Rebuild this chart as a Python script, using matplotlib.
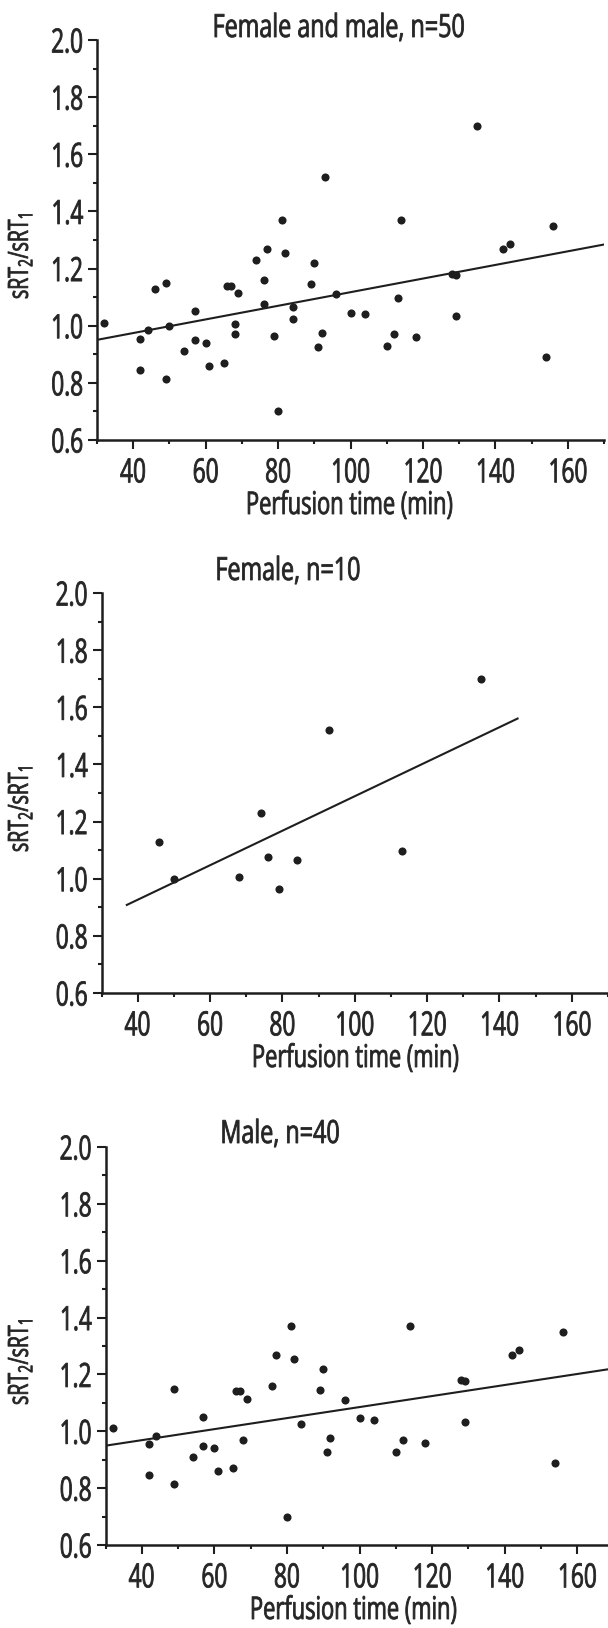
import numpy as np
import matplotlib
matplotlib.use('Agg')
import matplotlib.pyplot as plt
from matplotlib.ticker import MultipleLocator
from matplotlib.patheffects import AbstractPathEffect
from matplotlib.transforms import Affine2D

plt.rcParams['font.family'] = ['Open Sans', 'DejaVu Sans']
plt.rcParams['mathtext.default'] = 'regular'

# female patients (n=10)
perf_female = [46, 50, 68, 74, 76, 79, 84, 93, 113, 135]
ratio_female = [1.13, 1.00, 1.005, 1.23, 1.076, 0.965, 1.065, 1.52, 1.097, 1.70]

# male patients (n=40)
perf_male = [32, 42, 42, 44, 49, 49, 54, 57, 57, 60, 61, 65, 66, 67, 68, 69, 76, 77, 80, 81,
             82, 84, 89, 90, 91, 92, 96, 100, 104, 110, 112, 114, 118, 128, 129, 129, 142, 144, 154, 156]
ratio_male = [1.01, 0.955, 0.845, 0.985, 1.15, 0.815, 0.91, 1.05, 0.95, 0.94, 0.86, 0.87, 1.14, 1.14,
              0.97, 1.115, 1.16, 1.27, 0.70, 1.37, 1.255, 1.025, 1.145, 1.22, 0.927, 0.975, 1.11,
              1.045, 1.04, 0.928, 0.97, 1.37, 0.96, 1.18, 1.177, 1.033, 1.27, 1.285, 0.889, 1.35]

perf_all = perf_female + perf_male
ratio_all = ratio_female + ratio_male

titles = ['Female and male, n=50', 'Female, n=10', 'Male, n=40']
xticks = [40, 60, 80, 100, 120, 140, 160]
yticks = [0.6, 0.8, 1.0, 1.2, 1.4, 1.6, 1.8, 2.0]


class Squeeze(AbstractPathEffect):
    # narrow the glyphs along the text direction (condensed look), slight stroke for weight
    def __init__(self, f=0.68, anchor=0.5, lw=0.6):
        super().__init__()
        self.f = f
        self.anchor = anchor
        self.lw = lw

    def draw_path(self, renderer, gc, tpath, affine, rgbFace=None):
        ext = tpath.get_extents()
        x0 = ext.x0 + self.anchor * ext.width
        sq = Affine2D().translate(-x0, 0).scale(self.f, 1).translate(x0, 0)
        gc0 = renderer.new_gc()
        gc0.copy_properties(gc)
        gc0.set_linewidth(self.lw)
        gc0.set_foreground(rgbFace)
        renderer.draw_path(gc0, tpath, sq + affine, rgbFace)
        gc0.restore()


W, H = 608, 1628
fig = plt.figure(figsize=(W / 100, H / 100), dpi=100)

# pixel boxes: left, right, top(2.0), bottom(0.6)
boxes = [(97, 604, 40, 440), (101.5, 608, 593, 993), (105.5, 613.5, 1147, 1545)]
title_pos = [(339, 37), (288, 580), (280, 1143)]
xlab_x = [349, 355, 353]
fit_range = [(30, 170), (37, 145), (30, 170)]
panels = [(perf_all, ratio_all), (perf_female, ratio_female), (perf_male, ratio_male)]

ink = '#1e1e1e'
txt = '#252525'
for i in range(3):
    l, r, t, b = boxes[i]
    ax = fig.add_axes([l / W, 1 - b / H, (r - l) / W, (b - t) / H])
    x, y = panels[i]
    ax.scatter(x, y, s=34, color=ink, zorder=3, linewidths=0)
    k, c = np.polyfit(x, y, 1)
    xf = np.array(fit_range[i])
    ax.plot(xf, k * xf + c, color=ink, lw=1.5)
    ax.set_xlim(30, 170)
    ax.set_ylim(0.6, 2.0)
    ax.set_xticks(xticks)
    ax.set_yticks(yticks)
    ax.set_yticklabels([f'{v:.1f}' for v in yticks])
    ax.xaxis.set_minor_locator(MultipleLocator(10))
    ax.yaxis.set_minor_locator(MultipleLocator(0.1))
    for s in ['top', 'right']:
        ax.spines[s].set_visible(False)
    for s in ['left', 'bottom']:
        ax.spines[s].set_linewidth(1.8)
        ax.spines[s].set_color(ink)
    ax.tick_params(which='major', length=6.5, width=1.5, color=ink, labelsize=24, labelcolor=txt)
    ax.tick_params(which='minor', length=3.2, width=1.5, color=ink)
    ax.tick_params(axis='x', which='major', pad=6)
    ax.tick_params(axis='y', which='major', pad=3)
    for lab in ax.get_xticklabels():
        lab.set_path_effects([Squeeze(0.68, 0.5)])
    for lab in ax.get_yticklabels():
        lab.set_path_effects([Squeeze(0.68, 1.0)])
    ax.set_ylabel(r'sRT$_2$/sRT$_1$', fontsize=20, color=txt, path_effects=[Squeeze(0.7, 0.5)])
    ax.yaxis.set_label_coords(-(l - 35) / (r - l), 0.46)
    tx, ty = title_pos[i]
    fig.text(tx / W, 1 - ty / H, titles[i], ha='center', va='baseline', fontsize=23, color=txt,
             path_effects=[Squeeze(0.73, 0.5)])
    fig.text(xlab_x[i] / W, 1 - (b + 66) / H, 'Perfusion time (min)', ha='center', va='center',
             fontsize=22.5, color=txt, path_effects=[Squeeze(0.7, 0.5)])

fig.savefig('out.png', dpi=100)
